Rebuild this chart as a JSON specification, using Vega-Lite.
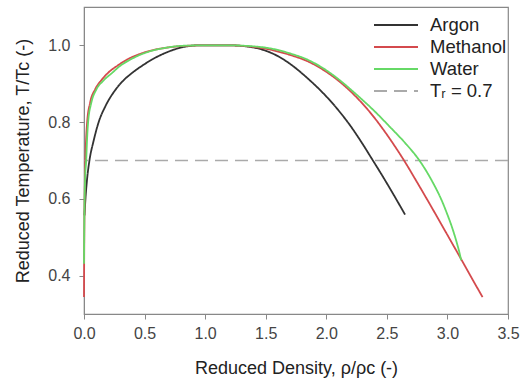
{
  "$schema": "https://vega.github.io/schema/vega-lite/v6.json",
  "width": 424,
  "height": 307,
  "autosize": {"type": "none"},
  "padding": {"left": 84, "top": 7, "right": 17, "bottom": 75},
  "background": "white",
  "config": {
    "font": "Liberation Sans",
    "view": {"stroke": "#888888", "strokeWidth": 1.2},
    "axis": {
      "domainColor": "#888888",
      "tickColor": "#888888",
      "tickSize": 5,
      "grid": false,
      "labelFlush": false,
      "labelFont": "Liberation Sans",
      "labelFontSize": 16,
      "labelColor": "#444444",
      "titleFont": "Liberation Sans",
      "titleFontSize": 18,
      "titleFontWeight": "normal",
      "titleColor": "#222222"
    }
  },
  "datasets": {
    "curves": [
      {"series": "Argon", "rho": 0.004, "T": 0.557},
      {"series": "Argon", "rho": 0.012, "T": 0.600},
      {"series": "Argon", "rho": 0.025, "T": 0.650},
      {"series": "Argon", "rho": 0.045, "T": 0.700},
      {"series": "Argon", "rho": 0.080, "T": 0.752},
      {"series": "Argon", "rho": 0.121, "T": 0.800},
      {"series": "Argon", "rho": 0.176, "T": 0.841},
      {"series": "Argon", "rho": 0.259, "T": 0.884},
      {"series": "Argon", "rho": 0.330, "T": 0.910},
      {"series": "Argon", "rho": 0.396, "T": 0.928},
      {"series": "Argon", "rho": 0.480, "T": 0.947},
      {"series": "Argon", "rho": 0.561, "T": 0.963},
      {"series": "Argon", "rho": 0.700, "T": 0.984},
      {"series": "Argon", "rho": 0.810, "T": 0.995},
      {"series": "Argon", "rho": 0.950, "T": 1.000},
      {"series": "Argon", "rho": 1.200, "T": 1.000},
      {"series": "Argon", "rho": 1.350, "T": 0.997},
      {"series": "Argon", "rho": 1.500, "T": 0.986},
      {"series": "Argon", "rho": 1.600, "T": 0.972},
      {"series": "Argon", "rho": 1.700, "T": 0.952},
      {"series": "Argon", "rho": 1.850, "T": 0.913},
      {"series": "Argon", "rho": 1.976, "T": 0.875},
      {"series": "Argon", "rho": 2.100, "T": 0.831},
      {"series": "Argon", "rho": 2.200, "T": 0.790},
      {"series": "Argon", "rho": 2.300, "T": 0.743},
      {"series": "Argon", "rho": 2.375, "T": 0.705},
      {"series": "Argon", "rho": 2.444, "T": 0.670},
      {"series": "Argon", "rho": 2.550, "T": 0.614},
      {"series": "Argon", "rho": 2.650, "T": 0.559},

      {"series": "Methanol", "rho": 0.000, "T": 0.344},
      {"series": "Methanol", "rho": 0.001, "T": 0.420},
      {"series": "Methanol", "rho": 0.003, "T": 0.520},
      {"series": "Methanol", "rho": 0.006, "T": 0.620},
      {"series": "Methanol", "rho": 0.011, "T": 0.700},
      {"series": "Methanol", "rho": 0.018, "T": 0.760},
      {"series": "Methanol", "rho": 0.026, "T": 0.800},
      {"series": "Methanol", "rho": 0.050, "T": 0.850},
      {"series": "Methanol", "rho": 0.093, "T": 0.886},
      {"series": "Methanol", "rho": 0.145, "T": 0.910},
      {"series": "Methanol", "rho": 0.204, "T": 0.930},
      {"series": "Methanol", "rho": 0.280, "T": 0.948},
      {"series": "Methanol", "rho": 0.355, "T": 0.963},
      {"series": "Methanol", "rho": 0.440, "T": 0.975},
      {"series": "Methanol", "rho": 0.534, "T": 0.985},
      {"series": "Methanol", "rho": 0.660, "T": 0.993},
      {"series": "Methanol", "rho": 0.800, "T": 0.998},
      {"series": "Methanol", "rho": 1.000, "T": 1.000},
      {"series": "Methanol", "rho": 1.200, "T": 1.000},
      {"series": "Methanol", "rho": 1.400, "T": 0.996},
      {"series": "Methanol", "rho": 1.550, "T": 0.988},
      {"series": "Methanol", "rho": 1.701, "T": 0.975},
      {"series": "Methanol", "rho": 1.850, "T": 0.958},
      {"series": "Methanol", "rho": 1.976, "T": 0.936},
      {"series": "Methanol", "rho": 2.100, "T": 0.908},
      {"series": "Methanol", "rho": 2.252, "T": 0.864},
      {"series": "Methanol", "rho": 2.360, "T": 0.826},
      {"series": "Methanol", "rho": 2.472, "T": 0.780},
      {"series": "Methanol", "rho": 2.560, "T": 0.740},
      {"series": "Methanol", "rho": 2.650, "T": 0.696},
      {"series": "Methanol", "rho": 2.750, "T": 0.643},
      {"series": "Methanol", "rho": 2.857, "T": 0.585},
      {"series": "Methanol", "rho": 2.980, "T": 0.517},
      {"series": "Methanol", "rho": 3.113, "T": 0.443},
      {"series": "Methanol", "rho": 3.200, "T": 0.394},
      {"series": "Methanol", "rho": 3.290, "T": 0.344},

      {"series": "Water", "rho": 0.000, "T": 0.431},
      {"series": "Water", "rho": 0.002, "T": 0.520},
      {"series": "Water", "rho": 0.005, "T": 0.600},
      {"series": "Water", "rho": 0.010, "T": 0.660},
      {"series": "Water", "rho": 0.018, "T": 0.700},
      {"series": "Water", "rho": 0.026, "T": 0.760},
      {"series": "Water", "rho": 0.034, "T": 0.800},
      {"series": "Water", "rho": 0.060, "T": 0.850},
      {"series": "Water", "rho": 0.100, "T": 0.884},
      {"series": "Water", "rho": 0.160, "T": 0.908},
      {"series": "Water", "rho": 0.231, "T": 0.928},
      {"series": "Water", "rho": 0.300, "T": 0.947},
      {"series": "Water", "rho": 0.383, "T": 0.963},
      {"series": "Water", "rho": 0.460, "T": 0.975},
      {"series": "Water", "rho": 0.550, "T": 0.985},
      {"series": "Water", "rho": 0.680, "T": 0.994},
      {"series": "Water", "rho": 0.820, "T": 0.999},
      {"series": "Water", "rho": 1.000, "T": 1.000},
      {"series": "Water", "rho": 1.200, "T": 1.000},
      {"series": "Water", "rho": 1.450, "T": 0.996},
      {"series": "Water", "rho": 1.600, "T": 0.988},
      {"series": "Water", "rho": 1.701, "T": 0.979},
      {"series": "Water", "rho": 1.850, "T": 0.962},
      {"series": "Water", "rho": 1.976, "T": 0.940},
      {"series": "Water", "rho": 2.100, "T": 0.912},
      {"series": "Water", "rho": 2.252, "T": 0.871},
      {"series": "Water", "rho": 2.400, "T": 0.828},
      {"series": "Water", "rho": 2.530, "T": 0.786},
      {"series": "Water", "rho": 2.650, "T": 0.746},
      {"series": "Water", "rho": 2.769, "T": 0.700},
      {"series": "Water", "rho": 2.884, "T": 0.640},
      {"series": "Water", "rho": 2.950, "T": 0.598},
      {"series": "Water", "rho": 2.995, "T": 0.563},
      {"series": "Water", "rho": 3.040, "T": 0.524},
      {"series": "Water", "rho": 3.077, "T": 0.486},
      {"series": "Water", "rho": 3.100, "T": 0.459},
      {"series": "Water", "rho": 3.113, "T": 0.440}
    ],
    "ref": [{"series": "Tᵣ = 0.7", "T": 0.7}]
  },
  "layer": [
    {
      "data": {"name": "ref"},
      "mark": {"type": "rule", "strokeWidth": 1.6},
      "encoding": {
        "y": {"field": "T", "type": "quantitative"},
        "color": {"field": "series", "type": "nominal"},
        "strokeDash": {"field": "series", "type": "nominal"}
      }
    },
    {
      "data": {"name": "curves"},
      "mark": {"type": "line", "strokeWidth": 1.8, "interpolate": "monotone"},
      "encoding": {
        "x": {
          "field": "rho",
          "type": "quantitative",
          "title": "Reduced Density, ρ/ρc (-)",
          "scale": {"domain": [0, 3.5], "nice": false, "zero": false},
          "axis": {"values": [0, 0.5, 1, 1.5, 2, 2.5, 3, 3.5], "format": ".1f", "labelPadding": 6, "titlePadding": 18}
        },
        "y": {
          "field": "T",
          "type": "quantitative",
          "title": "Reduced Temperature, T/Tc (-)",
          "scale": {"domain": [0.3, 1.1], "nice": false, "zero": false},
          "axis": {"values": [0.4, 0.6, 0.8, 1.0], "format": ".1f", "labelPadding": 9, "titlePadding": 15}
        },
        "color": {
          "field": "series",
          "type": "nominal",
          "scale": {
            "domain": ["Argon", "Methanol", "Water", "Tᵣ = 0.7"],
            "range": ["#333333", "#d44a4d", "#66d966", "#aaaaaa"]
          },
          "legend": {
            "title": null,
            "orient": "none",
            "legendX": 300,
            "legendY": 6,
            "symbolType": "M-2,0H2",
            "symbolSize": 484,
            "symbolStrokeWidth": 2,
            "labelFontSize": 18.5,
            "labelColor": "#222222",
            "labelFont": "Liberation Sans",
            "labelOffset": 22,
            "rowPadding": 0
          }
        },
        "strokeDash": {
          "field": "series",
          "type": "nominal",
          "scale": {
            "domain": ["Argon", "Methanol", "Water", "Tᵣ = 0.7"],
            "range": [[1, 0], [1, 0], [1, 0], [13, 7]]
          },
          "legend": {
            "title": null,
            "orient": "none",
            "legendX": 300,
            "legendY": 6,
            "symbolType": "M-2,0H2",
            "symbolSize": 484,
            "symbolStrokeWidth": 2,
            "labelFontSize": 18.5,
            "labelColor": "#222222",
            "labelFont": "Liberation Sans",
            "labelOffset": 22,
            "rowPadding": 0
          }
        }
      }
    }
  ]
}
